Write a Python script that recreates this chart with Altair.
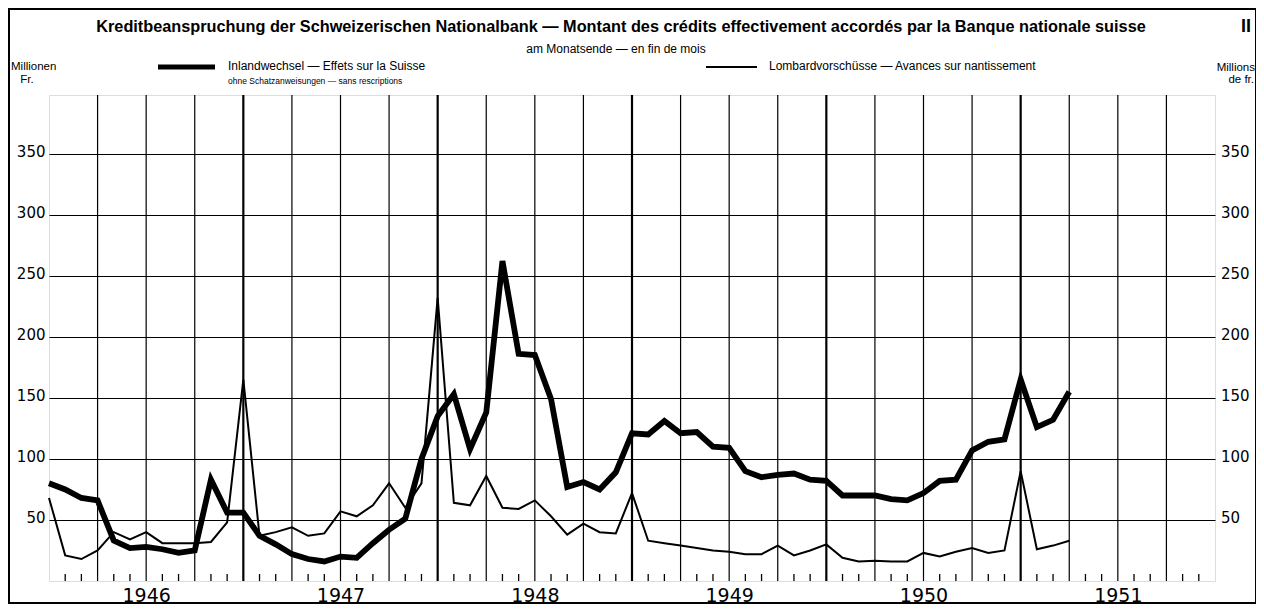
import altair as alt
import pandas as pd

# month-end index: 0 = end of December 1945 ... 72 = end of December 1951
months = list(range(64))
inland = [80, 75, 68, 66, 33, 27, 28, 26, 23, 25, 83, 56, 56, 37, 30, 22, 18, 16, 20, 19,
          31, 42, 51, 100, 135, 153, 108, 138, 262, 186, 185, 149, 77, 81, 75, 89, 121, 120, 131, 121,
          122, 110, 109, 90, 85, 87, 88, 83, 82, 70, 70, 70, 67, 66, 72, 82, 83, 107, 114, 116,
          165, 126, 132, 155]
lombard = [68, 21, 18, 25, 40, 34, 40, 31, 31, 31, 32, 48, 165, 37, 40, 44, 37, 39, 57, 53,
           62, 80, 60, 80, 232, 64, 62, 86, 60, 59, 66, 53, 38, 47, 40, 39, 72, 33, 31, 29,
           27, 25, 24, 22, 22, 29, 21, 25, 30, 19, 16, 16.5, 16, 16, 23, 20, 24, 27, 23, 25,
           90, 26, 29, 33]
y_ticks = [50, 100, 150, 200, 250, 300, 350]
year_label_pos = [6, 18, 30, 42, 54, 66]
quarter_lines = [m for m in range(3, 72, 3) if m % 12 != 0]
year_lines = [12, 24, 36, 48, 60]
month_ticks = [m for m in range(1, 72) if m % 3 != 0]

title_txt = "Kreditbeanspruchung der Schweizerischen Nationalbank — Montant des crédits effectivement accordés par la Banque nationale suisse"
sub_txt = "am Monatsende — en fin de mois"
leg1 = "Inlandwechsel — Effets sur la Suisse"
leg1b = "ohne Schatzanweisungen — sans rescriptions"
leg2 = "Lombardvorschüsse — Avances sur nantissement"

W, H = 1166, 486
NUMFONT = "DejaVu Sans"
TXTFONT = "Liberation Sans, Arial, sans-serif"

df_in = pd.DataFrame({"m": months, "v": inland})
df_lo = pd.DataFrame({"m": months, "v": lombard})

xs = alt.Scale(domain=[0, 72], nice=False, zero=False)
ys = alt.Scale(domain=[0, 398], nice=False, zero=True)

x_axis = alt.Axis(values=year_label_pos, labelExpr="format(1945 + (datum.value + 6) / 12, 'd')",
                  ticks=False, domain=False, grid=False, title=None, labelFont=NUMFONT,
                  labelFontSize=19, labelPadding=5, labelColor="black")
y_axis = alt.Axis(values=y_ticks, grid=True, gridColor="black", gridWidth=1.2, gridOpacity=1,
                  domain=False, ticks=False, title=None, labelFont=NUMFONT, labelFontSize=15,
                  labelPadding=4, labelColor="black", labelOffset=-2)

X = alt.X("m:Q", scale=xs, axis=x_axis)
Y = alt.Y("v:Q", scale=ys, axis=y_axis)

thick = alt.Chart(df_in).mark_line(color="black", strokeWidth=5.8, strokeJoin="miter").encode(x=X, y=Y)
thin = alt.Chart(df_lo).mark_line(color="black", strokeWidth=2, strokeJoin="miter").encode(x=X, y=Y)

qlines = alt.Chart(pd.DataFrame({"m": quarter_lines})).mark_rule(color="black", strokeWidth=1.2).encode(x=X)
ylines = alt.Chart(pd.DataFrame({"m": year_lines})).mark_rule(color="black", strokeWidth=2.2).encode(x=X)
mticks = alt.Chart(pd.DataFrame({"m": month_ticks})).mark_rule(color="black", strokeWidth=1.3).encode(
    x=X, y=alt.value(H - 7), y2=alt.value(H))

right_labels = alt.Chart(pd.DataFrame({"v": y_ticks})).mark_text(
    align="left", baseline="middle", font=NUMFONT, fontSize=15, color="black", dy=-2).encode(
    x=alt.value(W + 6), y=Y, text="v:Q")

one = pd.DataFrame({"a": [0]})


def txt(t, x, y, size, align="left", weight="normal", font=TXTFONT):
    return alt.Chart(one).mark_text(align=align, baseline="middle", fontSize=size,
                                    fontWeight=weight, font=font, color="black").encode(
        x=alt.value(x), y=alt.value(y), text=alt.value(t))


texts = [
    txt(title_txt, 572, -68, 16.3, align="center", weight="bold"),
    txt("II", 1197, -68, 18, align="center", weight="bold"),
    txt(sub_txt, 567, -46, 12, align="center"),
    txt(leg1, 179, -29, 12),
    txt(leg1b, 179, -14, 8.5),
    txt(leg2, 720, -29, 12),
    txt("Millionen", -38, -28, 11.5),
    txt("Fr.", -22, -15, 11.5, align="center"),
    txt("Millions", 1206, -27, 11.5, align="right"),
    txt("de fr.", 1205, -15, 11.5, align="right"),
]

leg_thick = alt.Chart(one).mark_rule(color="black", strokeWidth=5).encode(
    x=alt.value(109), x2=alt.value(166), y=alt.value(-28))
leg_thin = alt.Chart(one).mark_rule(color="black", strokeWidth=2).encode(
    x=alt.value(657), x2=alt.value(708), y=alt.value(-28))

frame = alt.Chart(one).mark_rect(fillOpacity=0, stroke="black", strokeWidth=2).encode(
    x=alt.value(-40), x2=alt.value(1207), y=alt.value(-86), y2=alt.value(508))

chart = alt.layer(
    qlines, ylines, mticks, thick, thin, right_labels, leg_thick, leg_thin, frame, *texts
).properties(
    width=W, height=H,
    autosize=alt.AutoSizeParams(type="none"),
    padding={"left": 41, "top": 87, "right": 41, "bottom": 24},
).configure_view(
    stroke="black", strokeWidth=2
).configure(background="white")

chart.save("out.html", embed_options={"renderer": "svg", "actions": False})
